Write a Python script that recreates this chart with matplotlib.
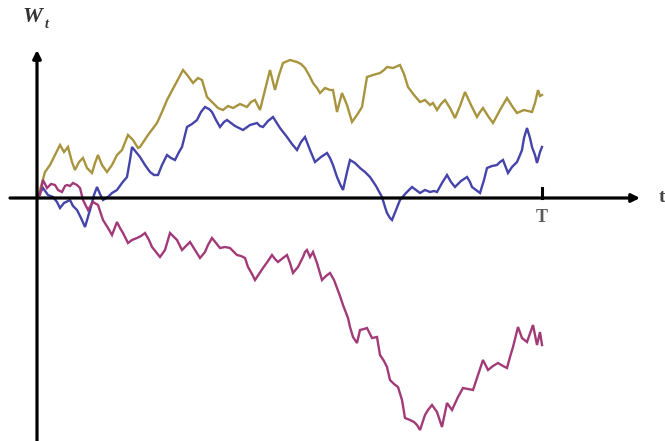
import matplotlib
matplotlib.use('Agg')
import matplotlib.pyplot as plt
import numpy as np

# three sample paths (t from origin, W up from the t axis)
gold_t = [0, 3, 8, 13, 18, 23, 27, 31, 35, 38,
          42, 46, 50, 55, 58, 61, 65, 70, 75, 80,
          85, 91, 96, 101, 103, 111, 120, 125, 130, 138,
          146, 151, 156, 161, 165, 170, 176, 181, 186, 191,
          196, 203, 210, 214, 218, 223, 228, 233, 238, 242,
          246, 253, 260, 264, 268, 272, 276, 280, 283, 288,
          293, 296, 300, 305, 310, 315, 320, 325, 330, 336,
          343, 347, 350, 356, 363, 367, 371, 377, 383, 388,
          393, 396, 400, 404, 408, 413, 418, 423, 428, 434,
          440, 443, 446, 451, 456, 463, 470, 475, 480, 487,
          495, 498, 501, 503, 505]
gold_w = [0, 8, 26, 33, 43, 53, 46, 51, 36, 28,
          36, 40, 30, 25, 35, 43, 33, 26, 33, 43,
          48, 63, 58, 50, 51, 63, 75, 86, 98, 113,
          128, 122, 115, 120, 118, 101, 95, 90, 88, 92,
          90, 94, 91, 96, 98, 88, 108, 128, 108, 123,
          135, 138, 136, 134, 130, 123, 115, 110, 105, 110,
          108, 108, 86, 105, 93, 76, 83, 91, 121, 123,
          125, 128, 131, 130, 133, 124, 111, 103, 96, 98,
          93, 95, 88, 94, 98, 90, 80, 92, 106, 93,
          81, 86, 90, 82, 75, 88, 100, 92, 85, 88,
          86, 95, 108, 102, 103]

blue_t = [0, 3, 6, 11, 16, 20, 23, 27, 33, 36,
          40, 44, 48, 53, 57, 60, 63, 66, 71, 75,
          80, 85, 90, 93, 95, 99, 103, 108, 113, 117,
          121, 125, 130, 134, 138, 142, 145, 148, 150, 155,
          160, 164, 168, 172, 175, 179, 183, 187, 190, 198,
          206, 213, 220, 223, 226, 231, 236, 243, 250, 255,
          260, 264, 268, 273, 278, 284, 290, 293, 296, 300,
          303, 306, 310, 313, 318, 323, 328, 333, 339, 345,
          348, 350, 353, 355, 359, 363, 369, 375, 379, 383,
          388, 393, 397, 400, 405, 410, 414, 418, 424, 430,
          433, 435, 439, 443, 447, 450, 455, 460, 463, 466,
          471, 475, 480, 483, 485, 487, 490, 493, 495, 498,
          500, 503, 505]
blue_w = [0, 5, 10, 3, 1, -4, -10, -5, -2, -8,
          -12, -20, -29, -12, 3, 11, 4, -2, 1, 5,
          8, 15, 21, 38, 51, 46, 41, 33, 26, 23,
          23, 33, 43, 40, 38, 46, 51, 63, 71, 74,
          78, 86, 91, 89, 86, 78, 71, 76, 78, 72,
          68, 73, 75, 72, 71, 77, 81, 70, 61, 54,
          48, 56, 61, 48, 36, 41, 45, 40, 33, 21,
          14, 8, 26, 38, 35, 30, 26, 21, 12, 1,
          -9, -15, -20, -22, -12, -2, 5, 11, 8, 5,
          8, 6, 7, 6, 15, 23, 16, 11, 17, 21,
          16, 11, 8, 5, 18, 30, 32, 33, 36, 38,
          25, 31, 36, 43, 48, 60, 70, 60, 51, 43,
          35, 46, 51]

mag_t = [0, 3, 6, 10, 14, 18, 21, 25, 28, 30,
         33, 36, 40, 43, 46, 51, 56, 61, 66, 71,
         75, 80, 83, 86, 91, 95, 100, 104, 108, 112,
         115, 119, 123, 128, 133, 136, 140, 145, 149, 153,
         158, 163, 168, 171, 175, 179, 183, 188, 193, 200,
         204, 208, 211, 215, 218, 222, 226, 231, 235, 238,
         241, 246, 250, 253, 256, 261, 266, 268, 270, 273,
         276, 280, 285, 289, 293, 297, 300, 303, 306, 311,
         313, 316, 320, 323, 327, 330, 335, 340, 343, 347,
         350, 353, 357, 361, 365, 368, 373, 377, 380, 383,
         388, 391, 395, 400, 405, 410, 415, 421, 426, 431,
         436, 441, 446, 451, 456, 461, 466, 470, 473, 476,
         481, 485, 490, 496, 500, 503, 505]
mag_w = [0, 3, 18, 10, 14, 13, 8, 6, 12, 13,
         12, 15, 13, 10, -2, -12, -4, -7, -22, -30,
         -37, -24, -30, -35, -45, -42, -40, -38, -35, -42,
         -49, -54, -59, -52, -35, -38, -42, -52, -48, -44,
         -52, -60, -54, -47, -40, -45, -50, -49, -50, -57,
         -58, -60, -69, -76, -82, -76, -70, -63, -57, -61,
         -64, -60, -57, -65, -75, -69, -59, -54, -52, -59,
         -54, -65, -82, -78, -75, -82, -90, -98, -107, -120,
         -129, -139, -145, -132, -131, -130, -140, -139, -157, -163,
         -169, -182, -186, -189, -202, -220, -222, -224, -227, -232,
         -217, -212, -207, -214, -229, -205, -212, -199, -190, -191,
         -192, -177, -162, -172, -168, -165, -168, -170, -159, -149,
         -129, -140, -144, -127, -147, -134, -147]

T_end = 505
path_colors = ['#a8943e', '#4444aa', '#a23a78']

fig = plt.figure(figsize=(6.65, 4.41), dpi=100)
ax = fig.add_axes([0, 0, 1, 1])
ax.set_xlim(-37, 628)
ax.set_ylim(-243, 198)
ax.axis('off')

for t, w, c in zip([gold_t, blue_t, mag_t], [gold_w, blue_w, mag_w], path_colors):
    ax.plot(t, w, color=c, lw=1.7, solid_joinstyle='miter', zorder=3)

# axes with arrow heads
arr = dict(arrowstyle='-|>', lw=2.3, color='black', mutation_scale=12, shrinkA=0, shrinkB=0)
ax.annotate('', xy=(603, 0), xytext=(-27, 0), arrowprops=arr, zorder=4)
ax.annotate('', xy=(0, 148), xytext=(0, -250), arrowprops=arr, zorder=4)

# tick at T
ax.plot([T_end, T_end], [0, 10], color='black', lw=2.2, zorder=4)
ax.text(T_end, -20, 'T', ha='center', va='center', fontsize=13, fontweight='bold',
        family='Liberation Serif', color='#5a5a5a')

ax.text(622, 0, 't', ha='left', va='center', fontsize=14, fontweight='bold',
        family='Liberation Serif', color='#444444')
ax.text(-15, 181, 'W', ha='left', va='center', fontsize=16, fontweight='bold',
        style='italic', family='Liberation Serif', color='#333333')
ax.text(8, 174, 't', ha='left', va='center', fontsize=10, fontweight='bold',
        style='italic', family='Liberation Serif', color='#333333')

fig.savefig('out.png', dpi=100)
